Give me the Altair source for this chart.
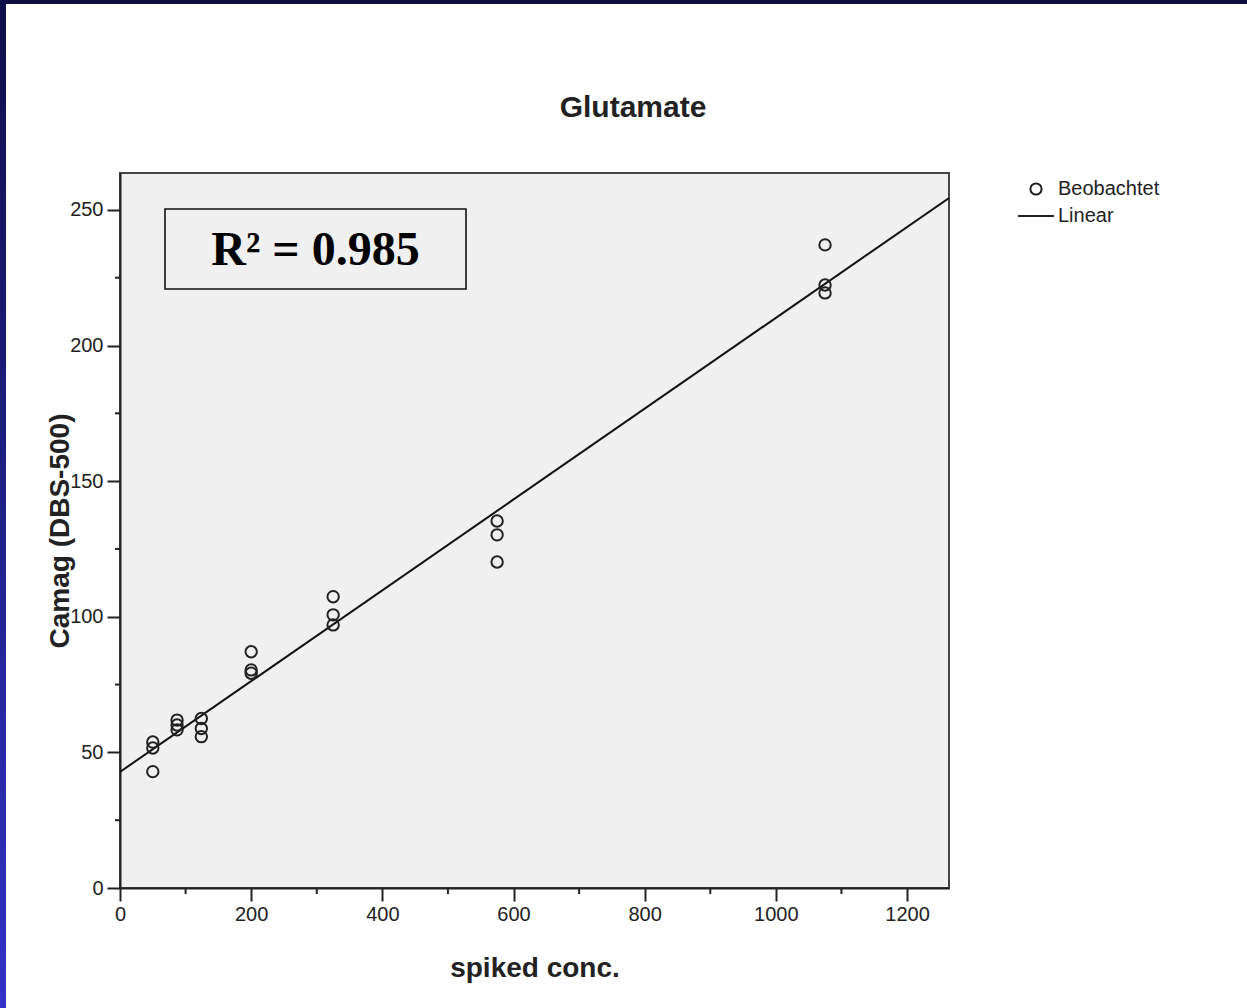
import altair as alt
import pandas as pd

# ---- text ----
TITLE = "Glutamate"
X_LABEL = "spiked conc."
Y_LABEL = "Camag (DBS-500)"
R2_TEXT = "R\u00b2 = 0.985"
SERIES = ["Beobachtet", "Linear"]

# ---- observations: spiked concentration vs. Camag reading ----
spiked = [50, 50, 50,
          87, 87, 87,
          124, 124, 124,
          200, 200, 200,
          325, 325, 325,
          575, 575, 575,
          1075, 1075, 1075]
camag = [53.8, 51.6, 42.9,
         61.9, 60.1, 58.3,
         62.5, 58.8, 55.8,
         87.1, 80.4, 79.2,
         107.4, 100.7, 97.0,
         135.3, 130.2, 120.2,
         237.1, 222.3, 219.4]

# ---- axis ticks ----
X_TICKS = [0, 200, 400, 600, 800, 1000, 1200]
X_MINOR = [100, 300, 500, 700, 900, 1100]
Y_TICKS = [0, 50, 100, 150, 200, 250]
Y_MINOR = [25, 75, 125, 175, 225]
X_MAX = 1264
Y_MAX = 263.6

W, H = 829, 715
SANS = "Liberation Sans"
SERIF = "Liberation Serif"
INK = "#222222"

obs = pd.DataFrame({"spiked": spiked, "camag": camag, "series": SERIES[0]})

xs = alt.Scale(domain=[0, X_MAX], nice=False, zero=False)
ys = alt.Scale(domain=[0, Y_MAX], nice=False, zero=False)

x_axis = alt.Axis(values=X_TICKS, format="d", grid=False, tickSize=13, tickWidth=2,
                  tickColor=INK, domain=True, domainColor=INK, domainWidth=2,
                  labelFont=SANS, labelFontSize=20, labelColor=INK, labelPadding=3,
                  labelFlush=False,
                  titleFont=SANS, titleFontSize=28, titleFontWeight="bold", titleColor=INK,
                  titleX=W / 2, titleY=88, titleBaseline="alphabetic")
y_axis = alt.Axis(values=Y_TICKS, format="d", grid=False, tickSize=13, tickWidth=2,
                  tickColor=INK, domain=True, domainColor=INK, domainWidth=2,
                  labelFont=SANS, labelFontSize=20, labelColor=INK, labelPadding=4,
                  labelFlush=False,
                  titleFont=SANS, titleFontSize=28, titleFontWeight="bold", titleColor=INK,
                  titleAngle=-90, titleX=-52, titleY=H / 2, titleBaseline="alphabetic",
                  titleAlign="center")

points = alt.Chart(obs).mark_point(
    filled=False, size=130, strokeWidth=2, color=INK, opacity=1
).encode(
    x=alt.X("spiked:Q", scale=xs, axis=x_axis, title=X_LABEL),
    y=alt.Y("camag:Q", scale=ys, axis=y_axis, title=Y_LABEL),
    shape=alt.Shape(
        "series:N",
        scale=alt.Scale(domain=SERIES, range=["circle", "M-3.2,0L3.2,0"]),
        legend=alt.Legend(
            title=None, orient="none", legendX=906, legendY=6, padding=0,
            labelFont=SANS, labelFontSize=20, labelColor=INK, labelOffset=12,
            symbolSize=125, symbolStrokeColor=INK, symbolStrokeWidth=2,
            symbolFillColor="transparent", rowPadding=7,
        ),
    ),
)

fit = alt.Chart(obs).transform_regression(
    "spiked", "camag", extent=[0, X_MAX]
).mark_line(color="#111111", strokeWidth=2, clip=True).encode(
    x=alt.X("spiked:Q", scale=xs),
    y=alt.Y("camag:Q", scale=ys),
)

# minor ticks between the labelled ones
x_minor = alt.Chart(pd.DataFrame({"v": X_MINOR})).mark_rule(
    color=INK, strokeWidth=2
).encode(x=alt.X("v:Q", scale=xs), y=alt.value(H), y2=alt.value(H + 6))
y_minor = alt.Chart(pd.DataFrame({"v": Y_MINOR})).mark_rule(
    color=INK, strokeWidth=2
).encode(y=alt.Y("v:Q", scale=ys), x=alt.value(-5), x2=alt.value(0))

# R² annotation box
one = alt.Data(values=[{"label": R2_TEXT}])
r2_box = alt.Chart(one).mark_rect(
    fill="#f0f0f0", stroke="#111111", strokeWidth=1.6
).encode(x=alt.value(45), x2=alt.value(346), y=alt.value(36), y2=alt.value(116))
r2_text = alt.Chart(one).mark_text(
    font=SERIF, fontSize=48, fontWeight="bold", color="#000000", align="center",
    baseline="alphabetic"
).encode(x=alt.value(195.5), y=alt.value(92), text="label:N")

# chart heading above the plot
heading = alt.Chart(alt.Data(values=[{"label": TITLE}])).mark_text(
    font=SANS, fontSize=30, fontWeight="bold", color=INK, align="center",
    baseline="alphabetic"
).encode(x=alt.value(513), y=alt.value(-56), text="label:N")

# slide frame: dark band on top, blue gradient band on the left
band_grad = alt.Gradient(
    gradient="linear",
    stops=[alt.GradientStop(color="#0e0e48", offset=0),
           alt.GradientStop(color="#3232c8", offset=1)],
    x1=0, x2=0, y1=0, y2=1,
)
top_band = alt.Chart(alt.Data(values=[{}])).mark_rect(color="#0d0d40").encode(
    x=alt.value(-120), x2=alt.value(1127), y=alt.value(-173), y2=alt.value(-169)
)
left_band = alt.Chart(alt.Data(values=[{}])).mark_rect(color=band_grad).encode(
    x=alt.value(-120), x2=alt.value(-114), y=alt.value(-173), y2=alt.value(835)
)

chart = alt.layer(
    r2_box, r2_text, x_minor, y_minor, fit, points, heading, top_band, left_band
).properties(
    width=W, height=H,
    autosize=alt.AutoSizeParams(type="none"),
    padding={"left": 120, "top": 173, "right": 298, "bottom": 120},
).configure(background="white").configure_view(
    fill="#f0f0f0", stroke="#444444", strokeWidth=2
)

chart.save("out.html", embed_options={"renderer": "svg", "actions": False})
